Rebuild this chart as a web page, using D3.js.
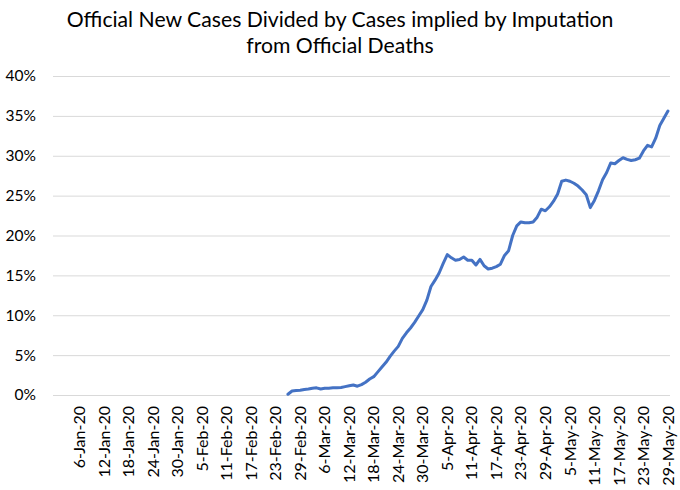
<!DOCTYPE html>
<html><head><meta charset="utf-8">
<script src="https://cdn.jsdelivr.net/npm/d3@7"></script>
<style>body{margin:0;background:#fff}svg{display:block}</style>
</head><body>
<svg id="chart" width="680" height="490"></svg>
<script>
// Category axis: daily dates, 31-Dec-2019 .. 29-May-2020
const axisStart = "2019-12-31";
const axisEnd = "2020-05-29";
// Labelled ticks (every 6th day)
const tickLabels = ["6-Jan-20","12-Jan-20","18-Jan-20","24-Jan-20","30-Jan-20","5-Feb-20","11-Feb-20","17-Feb-20","23-Feb-20","29-Feb-20","6-Mar-20","12-Mar-20","18-Mar-20","24-Mar-20","30-Mar-20","5-Apr-20","11-Apr-20","17-Apr-20","23-Apr-20","29-Apr-20","5-May-20","11-May-20","17-May-20","23-May-20","29-May-20"];
// Series starts on 26-Feb-2020, one value per day (percent)
const seriesStart = "2020-02-26";
const marchValues = [0.1,0.5,0.55,0.6, 0.7,0.75,0.85,0.9,0.75,0.85,0.85,0.9,0.9,0.95,1.05,1.15,1.25,1.1,1.3,1.6,2.0,2.3,2.9,3.5,4.1,4.85,5.5,6.1,7.1,7.8,8.4,9.1,9.9,10.7,11.9];
const aprilValues = [13.6,14.4,15.3,16.5,17.6,17.2,16.9,17.0,17.3,16.9,16.9,16.3,17.0,16.2,15.8,15.9,16.1,16.4,17.5,18.1,20.0,21.2,21.7,21.6,21.6,21.7,22.3,23.3,23.1,23.6];
const mayValues = [24.3,25.2,26.8,26.95,26.8,26.55,26.2,25.7,25.1,23.5,24.4,25.6,27.0,27.9,29.1,29.0,29.4,29.75,29.55,29.4,29.5,29.7,30.6,31.3,31.1,32.2,33.8,34.7,35.6];
const yTicks = [0,5,10,15,20,25,30,35,40];
const titleLines = ["Official New Cases Divided by Cases implied by Imputation","from Official Deaths"];

const parse = d3.timeParse("%Y-%m-%d");
const fmt = d3.timeFormat("%-d-%b-%y");
const allDates = d3.timeDay.range(parse(axisStart), d3.timeDay.offset(parse(axisEnd),1)).map(fmt);
const values = marchValues.concat(aprilValues, mayValues);
const sDates = d3.timeDay.range(parse(seriesStart), d3.timeDay.offset(parse(axisEnd),1)).map(fmt);
const data = sDates.map((d,i)=>({d, v: values[i]})).filter(p=>p.v!==undefined);

const svg = d3.select("#chart");
const FONT = "Lato, 'Open Sans', sans-serif";
const m = {left:53, right:10, top:76, bottom:95};
const W = 680, H = 490;
const x = d3.scaleBand().domain(allDates).range([m.left, W-m.right]).padding(0);
const y = d3.scaleLinear().domain([0,40]).range([395, 76]);

// title
svg.append("g").selectAll("text").data(titleLines).join("text")
  .attr("x", 340).attr("y",(d,i)=>27+i*26)
  .attr("text-anchor","middle").attr("font-family",FONT).attr("font-size",21.2).attr("fill","#000")
  .text(d=>d);

// grid + y labels
const yAxis = d3.axisLeft(y).tickValues(yTicks).tickFormat(d=>d+"%").tickSize(-(W-m.right-m.left)).tickPadding(17);
const gy = svg.append("g").attr("transform",`translate(${m.left},0)`).call(yAxis);
gy.select(".domain").remove();
gy.selectAll(".tick line").attr("stroke","#d9d9d9").attr("stroke-width",1);
gy.selectAll(".tick text").attr("font-family",FONT).attr("font-size",15.5).attr("fill","#000");

// x axis labels
const xAxis = d3.axisBottom(x).tickValues(tickLabels).tickSize(0).tickPadding(0);
const gx = svg.append("g").attr("transform",`translate(0,395)`).call(xAxis);
gx.select(".domain").remove();
gx.selectAll(".tick text")
  .attr("font-family",FONT).attr("font-size",16).attr("fill","#000")
  .attr("transform","rotate(-90)").attr("text-anchor","end")
  .attr("x",-11).attr("y",0).attr("dy","0.35em");

// line
const line = d3.line().x(p=>x(p.d)+x.bandwidth()/2).y(p=>y(p.v));
svg.append("path").datum(data).attr("d",line).attr("fill","none")
  .attr("stroke","#4472C4").attr("stroke-width",3).attr("stroke-linejoin","round").attr("stroke-linecap","round");
</script>
</body></html>
